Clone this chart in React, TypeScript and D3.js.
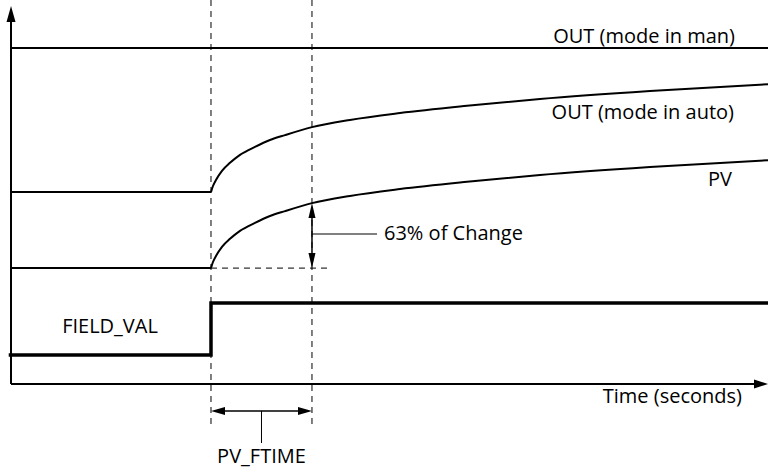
import React from "react";
import * as d3 from "d3";

// Time axis in arbitrary units (0..100), values in arbitrary units (0..100)
const stepTime = 26.42;
const ftimeEnd = 39.76;
const riseTimes = [26.42, 26.68, 27.08, 27.87, 28.93, 30.25, 32.23, 34.21, 36.2, 39.76, 44.78, 51.39, 60.24, 69.88, 84.41, 100];
const pvValues = [30.5, 32.1, 33.7, 36.1, 38.2, 40.3, 42.4, 44.2, 45.5, 47.6, 49.5, 51.3, 53.2, 55.0, 57.1, 58.9];
const outAutoValues = [50.5, 52.1, 53.7, 56.1, 58.2, 60.3, 62.4, 64.2, 65.5, 67.6, 69.5, 71.3, 73.2, 75.0, 77.1, 78.9];
const outManValue = 88.4;
const fieldTimes = [-0.3, 26.42, 26.42, 100];
const fieldValues = [7.6, 7.6, 21.3, 21.3];
const labels = {
  man: "OUT (mode in man)",
  auto: "OUT (mode in auto)",
  pv: "PV",
  change: "63% of Change",
  field: "FIELD_VAL",
  time: "Time (seconds)",
  ftime: "PV_FTIME",
};

const W = 768;
const H = 470;
const FONT = "'Open Sans', 'Noto Sans', sans-serif";

export default function App() {
  const x = d3.scaleLinear().domain([0, 100]).range([11, 768]);
  const y = d3.scaleLinear().domain([0, 100]).range([384, 4]);

  const curveLine = d3
    .line<[number, number]>()
    .x((d) => x(d[0]))
    .y((d) => y(d[1]))
    .curve(d3.curveMonotoneX);
  const straight = d3
    .line<[number, number]>()
    .x((d) => x(d[0]))
    .y((d) => y(d[1]));

  const pvPts = riseTimes.map((t, i) => [t, pvValues[i]] as [number, number]);
  const autoPts = riseTimes.map((t, i) => [t, outAutoValues[i]] as [number, number]);
  const fieldPts = fieldTimes.map((t, i) => [t, fieldValues[i]] as [number, number]);

  const xs = x(stepTime);
  const xf = x(ftimeEnd);
  const pvBase = y(pvValues[0]);
  const pvAtF = y(pvValues[riseTimes.indexOf(ftimeEnd)]);
  const x0 = x(0);
  const xEnd = x(100);
  const axisY = y(0);
  const dash = "6,5";
  const midF = (xs + xf) / 2;
  const arrowY = 411;

  return (
    <svg
      width={W}
      height={H}
      style={{ position: "absolute", left: 0, top: 0, background: "#fff" }}
      fontFamily={FONT}
      fontSize={20}
    >
      <rect width={W} height={H} fill="#fff" />
      {/* axes */}
      <line x1={x0} y1={axisY} x2={x0} y2={18} stroke="#000" strokeWidth={2} />
      <path d={`M${x0},6 L${x0 - 4.5},22 L${x0 + 4.5},22 Z`} fill="#000" />
      <line x1={x0} y1={axisY} x2={xEnd - 12} y2={axisY} stroke="#000" strokeWidth={2} />
      <path d={`M${xEnd},${axisY} L${xEnd - 14},${axisY - 4.5} L${xEnd - 14},${axisY + 4.5} Z`} fill="#000" />

      {/* dashed guides */}
      <line x1={xs} y1={0} x2={xs} y2={427} stroke="#000" strokeWidth={1} strokeDasharray={dash} />
      <line x1={xf} y1={0} x2={xf} y2={427} stroke="#000" strokeWidth={1} strokeDasharray={dash} />
      <line x1={xs} y1={pvBase} x2={330} y2={pvBase} stroke="#000" strokeWidth={1} strokeDasharray={dash} />

      {/* OUT man */}
      <line x1={x0} y1={y(outManValue)} x2={xEnd} y2={y(outManValue)} stroke="#000" strokeWidth={2} />

      {/* OUT auto */}
      <path d={straight([[0, outAutoValues[0]], [stepTime, outAutoValues[0]]]) || ""} fill="none" stroke="#000" strokeWidth={2} />
      <path d={curveLine(autoPts) || ""} fill="none" stroke="#000" strokeWidth={2} />

      {/* PV */}
      <path d={straight([[0, pvValues[0]], [stepTime, pvValues[0]]]) || ""} fill="none" stroke="#000" strokeWidth={2} />
      <path d={curveLine(pvPts) || ""} fill="none" stroke="#000" strokeWidth={2} />

      {/* FIELD_VAL */}
      <path d={straight(fieldPts) || ""} fill="none" stroke="#000" strokeWidth={3.5} />

      {/* 63% annotation */}
      <line x1={xf} y1={pvAtF + 12} x2={xf} y2={pvBase - 12} stroke="#000" strokeWidth={1.5} />
      <path d={`M${xf},${pvAtF} L${xf - 3.5},${pvAtF + 15} L${xf + 3.5},${pvAtF + 15} Z`} fill="#000" />
      <path d={`M${xf},${pvBase} L${xf - 3.5},${pvBase - 15} L${xf + 3.5},${pvBase - 15} Z`} fill="#000" />
      <line x1={xf} y1={234} x2={377} y2={234} stroke="#000" strokeWidth={1} />
      <text x={384} y={240}>{labels.change}</text>

      {/* PV_FTIME */}
      <line x1={xs + 10} y1={arrowY} x2={xf - 10} y2={arrowY} stroke="#000" strokeWidth={1.5} />
      <path d={`M${xs},${arrowY} L${xs + 14},${arrowY - 4} L${xs + 14},${arrowY + 4} Z`} fill="#000" />
      <path d={`M${xf},${arrowY} L${xf - 14},${arrowY - 4} L${xf - 14},${arrowY + 4} Z`} fill="#000" />
      <line x1={midF} y1={arrowY} x2={midF} y2={443} stroke="#000" strokeWidth={1} />
      <text x={midF} y={463} textAnchor="middle">{labels.ftime}</text>

      {/* labels */}
      <text x={735} y={43} textAnchor="end">{labels.man}</text>
      <text x={734} y={119} textAnchor="end">{labels.auto}</text>
      <text x={732} y={186} textAnchor="end">{labels.pv}</text>
      <text x={110} y={333} textAnchor="middle">{labels.field}</text>
      <text x={742} y={403} textAnchor="end">{labels.time}</text>
    </svg>
  );
}
